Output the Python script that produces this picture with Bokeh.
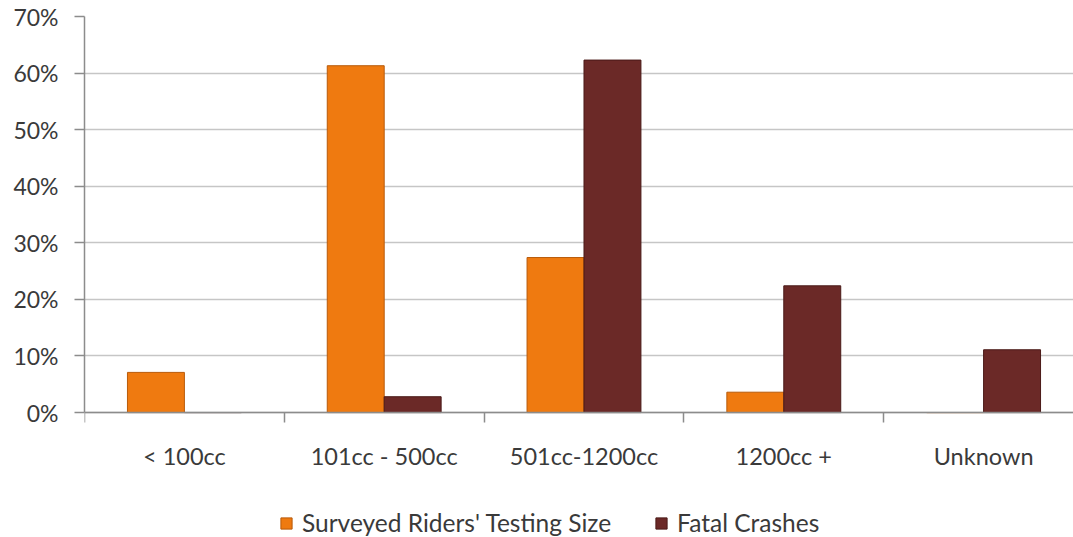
from bokeh.plotting import figure
from bokeh.models import (ColumnDataSource, Range1d, FixedTicker, NumeralTickFormatter,
                          Legend, LegendItem)
from bokeh.embed import file_html
from bokeh.resources import INLINE

categories = ["< 100cc", "101cc - 500cc", "501cc-1200cc", "1200cc +", "Unknown"]
surveyed = [0.071, 0.613, 0.274, 0.036, 0.0]
fatal = [0.0, 0.028, 0.623, 0.224, 0.111]
y_ticks = [0, 0.1, 0.2, 0.3, 0.4, 0.5, 0.6, 0.7]

FONT = "Lato"
TXT = "#3a3a3a"
ORANGE = "#EF7A10"
ORANGE_EDGE = "#B85A0A"
DARK = "#6B2927"
DARK_EDGE = "#4A1A18"
AXIS = "#8c8c8c"

idx = list(range(len(categories)))
centers = [i + 0.5 for i in idx]
bw = 0.285

src = ColumnDataSource(dict(
    xs=[c - bw / 2 for c in centers],
    xf=[c + bw / 2 for c in centers],
    surveyed=surveyed,
    fatal=fatal,
))

# frame extends below 0% so the legend can live inside it
p = figure(frame_width=989, frame_height=521, output_backend="svg", toolbar_location=None,
           x_range=Range1d(0, 4.95), y_range=Range1d(-0.2208, 0.70),
           min_border_left=84, min_border_right=0, min_border_top=16,
           min_border_bottom=0)
p.outline_line_color = None

r1 = p.vbar(x="xs", top="surveyed", width=bw, source=src, fill_color=ORANGE,
            line_color=ORANGE_EDGE, line_width=1)
r2 = p.vbar(x="xf", top="fatal", width=bw, source=src, fill_color=DARK,
            line_color=DARK_EDGE, line_width=1)

# y axis
p.yaxis.ticker = FixedTicker(ticks=y_ticks)
p.yaxis.bounds = (0, 0.7)
p.yaxis.formatter = NumeralTickFormatter(format="0%")
p.yaxis.axis_line_color = AXIS
p.yaxis.axis_line_width = 1.5
p.yaxis.major_tick_line_color = AXIS
p.yaxis.major_tick_line_width = 1.5
p.yaxis.major_tick_out = 10
p.yaxis.major_tick_in = 0
p.yaxis.minor_tick_line_color = None
p.yaxis.major_label_text_font = FONT
p.yaxis.major_label_text_font_size = "23px"
p.yaxis.major_label_text_color = TXT
p.yaxis.major_label_standoff = 16

# x axis at 0%: labels at centers, ticks at boundaries
p.xaxis.fixed_location = 0
p.xaxis.ticker = FixedTicker(ticks=centers, minor_ticks=[0, 1, 2, 3, 4, 5])
p.xaxis.major_label_overrides = {c: categories[i] for i, c in enumerate(centers)}
p.xaxis.major_tick_line_color = None
p.xaxis.major_tick_out = 0
p.xaxis.major_tick_in = 0
p.xaxis.minor_tick_line_color = AXIS
p.xaxis.minor_tick_line_width = 1.5
p.xaxis.minor_tick_out = 10
p.xaxis.minor_tick_in = 0
p.xaxis.axis_line_color = AXIS
p.xaxis.axis_line_width = 1.5
p.xaxis.major_label_text_font = FONT
p.xaxis.major_label_text_font_size = "23.5px"
p.xaxis.major_label_text_color = TXT
p.xaxis.major_label_standoff = 19

p.xgrid.grid_line_color = None
p.ygrid.ticker = FixedTicker(ticks=y_ticks)
p.ygrid.grid_line_color = "#c6c6c6"
p.ygrid.grid_line_width = 1.5

legend = Legend(items=[LegendItem(label="Surveyed Riders' Testing Size", renderers=[r1]),
                       LegendItem(label="Fatal Crashes", renderers=[r2])],
                orientation="horizontal", location=(195, 0),
                label_text_font=FONT, label_text_font_size="24.5px",
                label_text_color=TXT, glyph_width=14, glyph_height=14,
                spacing=43, label_standoff=9, border_line_color=None,
                background_fill_alpha=0, margin=0, padding=4)
p.add_layout(legend, "center")

open("out.html", "w").write(file_html(p, INLINE))
